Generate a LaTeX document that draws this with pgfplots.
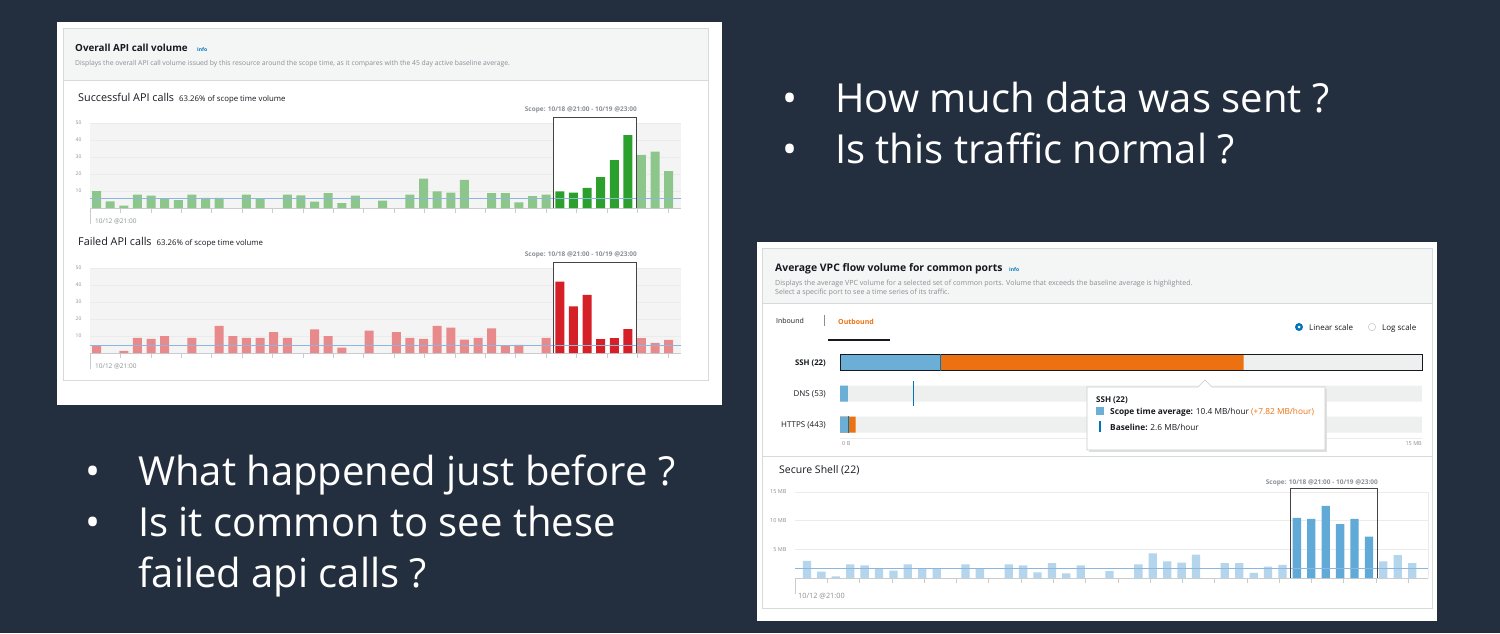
\documentclass[border=0pt]{standalone}
\usepackage{fontspec}
\setmainfont{Open Sans}
\usepackage{pgfplots}
\pgfplotsset{compat=1.18}
\definecolor{slidebg}{HTML}{232F3E}
\definecolor{cardborder}{HTML}{D5DBDB}
\definecolor{headerbg}{HTML}{F4F5F5}
\definecolor{titlec}{HTML}{16191F}
\definecolor{descc}{HTML}{8A8F94}
\definecolor{infoc}{HTML}{0073BB}
\definecolor{orangec}{HTML}{EC7211}
\definecolor{lgreen}{HTML}{8DC68A}
\definecolor{dgreen}{HTML}{2CA02C}
\definecolor{lred}{HTML}{E8898C}
\definecolor{dred}{HTML}{D62028}
\definecolor{lblue}{HTML}{B5D5EC}
\definecolor{dblue}{HTML}{61AAD8}
\definecolor{basec}{HTML}{8AB6E0}
\definecolor{plotbg}{HTML}{F4F4F4}
\definecolor{gridc}{HTML}{EBEBEB}
\definecolor{axgray}{HTML}{C9CCCE}
\definecolor{boxc}{HTML}{444444}
\definecolor{trackc}{HTML}{EDF0EE}
\definecolor{ssh}{HTML}{6BAED6}
\newcommand\fs[1]{\fontsize{#1}{#1}\selectfont}
\tikzset{px/.style={x=1pt,y=1pt}}

\pgfplotsset{
  apibars/.style={
    scale only axis, anchor=south west, clip=false,
    axis x line*=bottom, axis y line*=left,
    x axis line style={draw=axgray,-}, y axis line style={draw=none},
    ymin=0, ymax=50,
    ytick={10,20,30,40,50}, yticklabels={10,20,30,40,50},
    /pgf/number format/assume math mode=true,
    yticklabel style={font=\fs{5}, text=descc},
    y tick style={draw=none},
    xticklabels={}, x tick style={draw=axgray, line width=0.5pt},
    tick align=outside, major tick length=5pt,
    ymajorgrids, grid style={draw=gridc, line width=0.4pt},
    axis background/.style={fill=plotbg},
    xmin=-0.48, xmax=42.9,
    xtick={-0.48,1.752,3.984,6.216,8.448,10.68,12.912,15.144,17.376,19.608,21.84,24.072,26.304,28.536,30.768,33.0,35.232,37.464,39.696,41.928},
  },
  bars/.style={ybar, bar width=9pt, bar shift=0pt, draw=none, fill=#1},
}

\begin{document}
\begin{tikzpicture}
\begin{scope}[px]
\useasboundingbox (0,0) rectangle (1500,-633);
\fill[slidebg] (0,0) rectangle (1500,-633);

% ================= LEFT PANEL =================
\fill[white] (57,-22) rectangle (722,-405);
\draw[cardborder, fill=white, line width=0.8pt] (63,-28) rectangle (708,-380);
\fill[headerbg] (63.5,-28.5) rectangle (707.5,-80);
\draw[cardborder] (63.5,-80) -- (707.5,-80);
\node[anchor=base west, inner sep=0, font=\bfseries\fs{9.8}, text=titlec] at (75,-51) {Overall API call volume};
\node[anchor=base west, inner sep=0, font=\bfseries\fs{5}, text=infoc] at (197,-51) {Info};
\node[anchor=base west, inner sep=0, font=\fs{6.8}, text=descc] at (75,-65) {Displays the overall API call volume issued by this resource around the scope time, as it compares with the 45 day active baseline average.};

\node[anchor=base west, inner sep=0, font=\fs{10.8}, text=titlec] at (78,-101) {Successful API calls\hspace{5pt}{\fs{7.8}63.26\% of scope time volume}};
\node[anchor=base east, inner sep=0, font=\bfseries\fs{6.5}, text=descc] at (637,-111.5) {Scope: 10/18 @21:00 - 10/19 @23:00};
\node[anchor=base west, inner sep=0, font=\fs{6.5}, text=descc] at (95,-223) {10/12 @21:00};
\node[anchor=base west, inner sep=0, font=\fs{10.8}, text=titlec] at (78,-245) {Failed API calls\hspace{5pt}{\fs{7.8}63.26\% of scope time volume}};
\node[anchor=base east, inner sep=0, font=\bfseries\fs{6.5}, text=descc] at (637,-256.5) {Scope: 10/18 @21:00 - 10/19 @23:00};
\node[anchor=base west, inner sep=0, font=\fs{6.5}, text=descc] at (95,-368) {10/12 @21:00};
\end{scope}

\begin{axis}[apibars, at={(90pt,-208pt)}, width=591pt, height=85pt]
\fill[white] (axis cs:33.56,0) rectangle (axis cs:39.65,50);
\addplot[bars=lgreen] coordinates {(0,10) (1,3.9) (2,1.4) (3,7.8) (4,7.3) (5,5.7) (6,4.7) (7,7.8) (8,5.9) (9,5.9) (11,7.8) (12,5.3) (14,7.8) (15,7.5) (16,3.7) (17,8.8) (18,2.9) (19,7.3) (21,4.3) (23,7.8) (24,17.3) (25,9.8) (26,9.0) (27,16.5) (29,8.8) (30,8.8) (31,3.3) (32,7.0) (33,7.8) (40,31.2) (41,33.2) (42,21.7)};
\addplot[bars=dgreen] coordinates {(34,9.8) (35,9.0) (36,11.9) (37,18.1) (38,28.1) (39,42.9)};
\addplot[basec, line width=0.8pt] coordinates {(-0.48,5.7) (42.9,5.7)};
\addplot[boxc, line width=0.9pt] coordinates {(33.56,0) (33.56,53.5) (39.65,53.5) (39.65,0)};
\draw[axgray, line width=0.5pt] (axis cs:-0.48,0) -- ++(0pt,-16pt);
\end{axis}

\begin{axis}[apibars, at={(90pt,-353pt)}, width=591pt, height=85pt]
\fill[white] (axis cs:33.56,0) rectangle (axis cs:39.65,50);
\addplot[bars=lred] coordinates {(0,4.6) (2,1.2) (3,8.9) (4,8.3) (5,9.9) (7,8.9) (9,16.0) (10,9.9) (11,8.9) (12,8.9) (13,12.3) (14,8.9) (16,13.9) (17,9.9) (18,3.2) (20,13.1) (22,12.3) (23,8.9) (24,8.3) (25,16.0) (26,14.9) (27,7.9) (28,8.9) (29,14.5) (30,4.6) (31,4.8) (33,8.9) (40,8.8) (41,6.0) (42,7.7)};
\addplot[bars=dred] coordinates {(34,42.0) (35,27.5) (36,34.2) (37,8.2) (38,8.8) (39,14.0)};
\addplot[basec, line width=0.8pt] coordinates {(-0.48,4.7) (42.9,4.7)};
\addplot[boxc, line width=0.9pt] coordinates {(33.56,0) (33.56,53.5) (39.65,53.5) (39.65,0)};
\draw[axgray, line width=0.5pt] (axis cs:-0.48,0) -- ++(0pt,-16pt);
\end{axis}

% ================= RIGHT PANEL =================
\begin{scope}[px]
\fill[white] (757,-242) rectangle (1437,-621);
\draw[cardborder, fill=white, line width=0.8pt] (762,-248) rectangle (1432,-608);
\fill[headerbg] (762.5,-248.5) rectangle (1431.5,-303);
\draw[cardborder] (762.5,-303) -- (1431.5,-303);
\node[anchor=base west, inner sep=0, font=\bfseries\fs{10.4}, text=titlec] at (775,-271.5) {Average VPC flow volume for common ports};
\node[anchor=base west, inner sep=0, font=\bfseries\fs{5}, text=infoc] at (1009,-271.5) {Info};
\node[anchor=base west, inner sep=0, font=\fs{7.1}, text=descc] at (775,-285) {Displays the average VPC volume for a selected set of common ports. Volume that exceeds the baseline average is highlighted.};
\node[anchor=base west, inner sep=0, font=\fs{7.1}, text=descc] at (775,-294.5) {Select a specific port to see a time series of its traffic.};

\node[anchor=base west, inner sep=0, font=\fs{7}, text=titlec] at (776,-323) {Inbound};
\draw[descc, line width=0.5pt] (824,-315) -- (824,-326);
\node[anchor=base west, inner sep=0, font=\bfseries\fs{7}, text=orangec] at (838,-324) {Outbound};
\draw[titlec, line width=2pt] (828,-340) -- (890,-340);
\fill[infoc] (1299,-327) circle (4);
\fill[white] (1299,-327) circle (1.5);
\node[anchor=base west, inner sep=0, font=\fs{8}, text=titlec] at (1309,-330.5) {Linear scale};
\draw[axgray, line width=0.6pt, fill=white] (1372,-327) circle (3.7);
\node[anchor=base west, inner sep=0, font=\fs{8}, text=titlec] at (1382,-330.5) {Log scale};

\node[anchor=base east, inner sep=0, font=\bfseries\fs{7.8}, text=titlec] at (826,-365.5) {SSH (22)};
\node[anchor=base east, inner sep=0, font=\fs{8}, text=titlec] at (826,-396) {DNS (53)};
\node[anchor=base east, inner sep=0, font=\fs{8}, text=titlec] at (826,-427.5) {HTTPS (443)};
\node[anchor=base west, inner sep=0, font=\fs{5.5}, text=descc] at (842,-445.5) {0 B};
\node[anchor=base east, inner sep=0, font=\fs{5.5}, text=descc] at (1422,-445.5) {15 MB};
\end{scope}

\begin{axis}[scale only axis, anchor=south west, at={(840pt,-440pt)}, width=582pt, height=93pt,
  xmin=0, xmax=15, ymin=-0.5, ymax=2.5, hide axis, clip=false]
\addplot[xbar, bar width=16pt, bar shift=0pt, fill=trackc, draw=none] coordinates {(15,2) (15,1) (15,0)};
\addplot[xbar, bar width=16pt, bar shift=0pt, fill=orangec, draw=none] coordinates {(10.4,2) (0.4,0)};
\addplot[xbar, bar width=16pt, bar shift=0pt, fill=ssh, draw=none] coordinates {(2.6,2) (0.2,1) (0.2,0)};
\addplot[xbar, bar width=16pt, bar shift=0pt, fill=none, draw=titlec, line width=0.8pt] coordinates {(15,2)};
\addplot[infoc, line width=1.1pt] coordinates {(2.6,1.74) (2.6,2.26)};
\addplot[infoc, line width=1.1pt] coordinates {(1.9,0.6) (1.9,1.4)};
\addplot[infoc, line width=1.1pt] coordinates {(0.22,-0.26) (0.22,0.26)};
\addplot[gridc, line width=0.6pt] coordinates {(0,-0.45) (15,-0.45)};
\end{axis}

\begin{scope}[px]
\draw[cardborder] (762.5,-456) -- (1431.5,-456);
% tooltip
\fill[black!12] (1088.5,-389) rectangle (1326.5,-452);
\draw[axgray, fill=white, line width=0.6pt] (1087,-387) -- (1198,-387) -- (1205,-380) -- (1212,-387) -- (1325,-387) -- (1325,-450) -- (1087,-450) -- cycle;
\node[anchor=base west, inner sep=0, font=\bfseries\fs{8}, text=titlec] at (1096,-402) {SSH (22)};
\fill[ssh] (1096,-407) rectangle (1104,-415);
\node[anchor=base west, inner sep=0, font=\fs{8.3}, text=titlec] at (1110,-414) {\textbf{Scope time average:} 10.4 MB/hour \textcolor{orangec}{(+7.82 MB/hour)}};
\draw[infoc, line width=1.1pt] (1100,-421) -- (1100,-432);
\node[anchor=base west, inner sep=0, font=\fs{8.3}, text=titlec] at (1110,-430) {\textbf{Baseline:} 2.6 MB/hour};

\node[anchor=base west, inner sep=0, font=\fs{10.5}, text=titlec] at (779,-473.5) {Secure Shell (22)};
\node[anchor=base east, inner sep=0, font=\bfseries\fs{6.5}, text=descc] at (1378,-484) {Scope: 10/18 @21:00 - 10/19 @23:00};
\node[anchor=base west, inner sep=0, font=\fs{7.3}, text=descc] at (798,-598) {10/12 @21:00};
\end{scope}

\begin{axis}[scale only axis, anchor=south west, clip=false, at={(795pt,-578pt)}, width=633pt, height=86pt,
  xmin=-0.83, xmax=43.1, ymin=0, ymax=15,
  axis x line*=bottom, axis y line*=left,
  x axis line style={draw=axgray,-}, y axis line style={draw=none},
  ytick={5,10,15}, yticklabels={5 MB,10 MB,15 MB},
  yticklabel style={font=\fs{5.5}, text=descc}, y tick style={draw=none},
  xtick={-0.83,1.41,3.65,5.89,8.13,10.37,12.61,14.85,17.09,19.33,21.57,23.81,26.05,28.29,30.53,32.77,35.01,37.25,39.49,41.73},
  xticklabels={}, x tick style={draw=axgray, line width=0.5pt},
  tick align=outside, major tick length=5pt,
  ymajorgrids, grid style={draw=gridc, line width=0.4pt}]
\addplot[ybar, bar width=8.3pt, bar shift=0pt, draw=none, fill=lblue] coordinates {(0,3.0) (1,1.1) (2,0.3) (3,2.4) (4,2.2) (5,1.7) (6,1.3) (7,2.4) (8,1.7) (9,1.7) (11,2.4) (12,1.7) (14,2.4) (15,2.2) (16,1.0) (17,2.6) (18,0.8) (19,2.2) (21,1.2) (23,2.4) (24,4.3) (25,2.9) (26,2.7) (27,4.1) (29,2.6) (30,2.6) (31,0.9) (32,2.0) (33,2.3) (40,2.9) (41,4.0) (42,2.6)};
\addplot[ybar, bar width=8.3pt, bar shift=0pt, draw=none, fill=dblue] coordinates {(34,10.5) (35,10.3) (36,12.6) (37,9.4) (38,10.3) (39,7.2)};
\addplot[basec, line width=1.3pt] coordinates {(-0.83,1.66) (43.1,1.66)};
\addplot[boxc, line width=0.9pt] coordinates {(33.54,0) (33.54,15.7) (39.58,15.7) (39.58,0)};
\addplot[gridc, line width=0.5pt] coordinates {(43.1,0) (43.1,15)};
\draw[axgray, line width=0.5pt] (axis cs:-0.83,0) -- ++(0pt,-16pt);
\end{axis}

% ================= SLIDE TEXT =================
\begin{scope}[px]
\node[anchor=base west, inner sep=0, font=\fs{40}, text=white] at (782,-112) {•};
\node[anchor=base west, inner sep=0, font=\fs{40}, text=white] at (835,-112) {How much data was sent ?};
\node[anchor=base west, inner sep=0, font=\fs{40}, text=white] at (782,-163) {•};
\node[anchor=base west, inner sep=0, font=\fs{40}, text=white] at (835,-163) {Is this traffic normal ?};
\node[anchor=base west, inner sep=0, font=\fs{40}, text=white] at (85,-485) {•};
\node[anchor=base west, inner sep=0, font=\fs{40}, text=white] at (138,-485) {What happened just before ?};
\node[anchor=base west, inner sep=0, font=\fs{40}, text=white] at (85,-536) {•};
\node[anchor=base west, inner sep=0, font=\fs{40}, text=white] at (138,-536) {Is it common to see these};
\node[anchor=base west, inner sep=0, font=\fs{40}, text=white] at (138,-587) {failed api calls ?};
\end{scope}
\end{tikzpicture}
\end{document}
